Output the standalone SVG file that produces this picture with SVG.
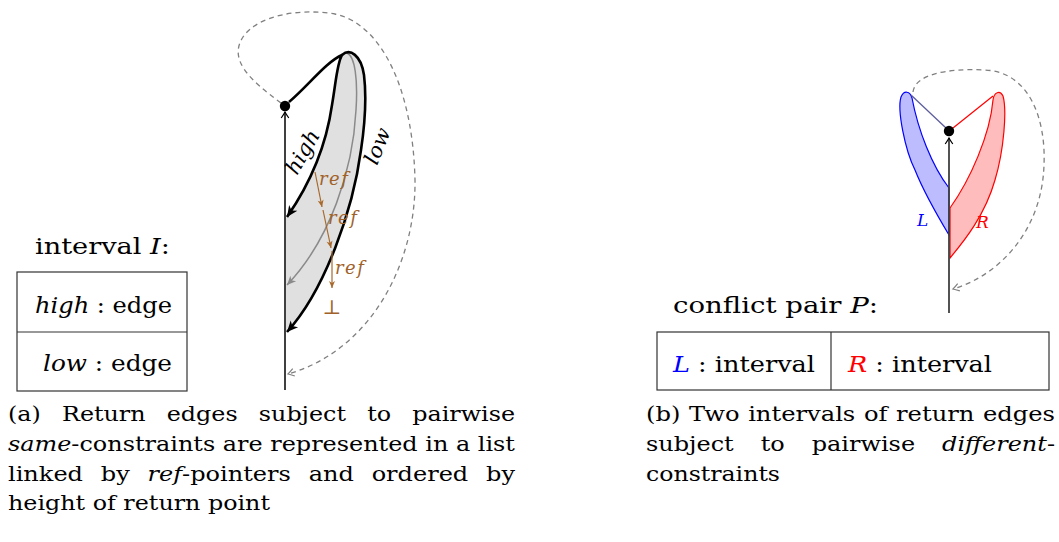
<svg xmlns="http://www.w3.org/2000/svg" width="1059" height="542" viewBox="0 0 1059 542" font-family="'DejaVu Serif', serif">
<style>
  .cap{font-size:21px}
  .lbl{font-size:23px}
  .it{font-style:italic}
  .box{fill:none;stroke:#333;stroke-width:1.2}
  .thick{fill:none;stroke:#000;stroke-width:2.6;stroke-linejoin:round}
  .axis{fill:none;stroke:#000;stroke-width:1.5}
  .axis2{fill:none;stroke:#404040;stroke-width:1.8}
  .mid{fill:none;stroke:#8a8a8a;stroke-width:1.5}
  .dash{fill:none;stroke:#808080;stroke-width:1.3;stroke-dasharray:5 4}
  .ref{fill:none;stroke:#a8692d;stroke-width:1.2}
  .reft{fill:#a0622a;font-style:italic;font-size:18px;letter-spacing:1.5px}
</style>
<defs>
  <marker id="stealthK" markerUnits="userSpaceOnUse" viewBox="-12 -6 14 12" refX="0" refY="0" markerWidth="14" markerHeight="12" orient="auto">
    <path d="M0,0 L-11,-5 L-8,0 L-11,5 Z" fill="#000"/>
  </marker>
  <marker id="stealthG" markerUnits="userSpaceOnUse" viewBox="-12 -6 14 12" refX="0" refY="0" markerWidth="14" markerHeight="12" orient="auto">
    <path d="M0,0 L-9,-4 L-6.5,0 L-9,4 Z" fill="#8a8a8a"/>
  </marker>
  <marker id="stealthB" markerUnits="userSpaceOnUse" viewBox="-10 -5 12 10" refX="0" refY="0" markerWidth="12" markerHeight="10" orient="auto">
    <path d="M0,0 L-7,-3 L-5,0 L-7,3 Z" fill="#a8692d"/>
  </marker>
  <marker id="toK" markerUnits="userSpaceOnUse" viewBox="-9 -6 11 12" refX="0" refY="0" markerWidth="11" markerHeight="12" orient="auto">
    <path d="M-6,-3.8 Q-2,-1 0,0 Q-2,1 -6,3.8" fill="none" stroke="#000" stroke-width="1.2"/>
  </marker>
  <marker id="toG" markerUnits="userSpaceOnUse" viewBox="-9 -6 11 12" refX="0" refY="0" markerWidth="11" markerHeight="12" orient="auto">
    <path d="M-6,-3.8 Q-2,-1 0,0 Q-2,1 -6,3.8" fill="none" stroke="#808080" stroke-width="1.2"/>
  </marker>
</defs>

<!-- ===== Figure (a) ===== -->
<g id="interval-table">
  <text class="lbl" x="35" y="254" textLength="135" lengthAdjust="spacingAndGlyphs">interval <tspan class="it">I</tspan>:</text>
  <rect class="box" x="17" y="272" width="170" height="119"/>
  <line class="box" x1="17" y1="332" x2="187" y2="332"/>
  <text class="lbl" x="35" y="313" textLength="137" lengthAdjust="spacingAndGlyphs"><tspan class="it">high</tspan> : edge</text>
  <text class="lbl" x="43" y="371" textLength="129" lengthAdjust="spacingAndGlyphs"><tspan class="it">low</tspan> : edge</text>
</g>

<g id="region-a">
  <path d="M286,218 C314,178 327,140 332,105 C336,82 337,63 342,55 C350,48 361,55 364,75 C367,100 364,130 361,150 C353,210 325,290 286,333 Z" fill="#e0e0e0" stroke="none"/>
</g>

<g id="connectors-a">
  <path class="dash" d="M281,103 C250,80 228,60 243,37 C258,15 300,8 335,14 C382,24 413,90 415,180 C416,262 372,350 288,374" marker-end="url(#toG)"/>
  <path class="axis" d="M285,390 V112" marker-end="url(#toK)"/>
  <path class="mid" d="M347,53 C355,56 358,80 356,110 C353,170 330,240 287,285" marker-end="url(#stealthG)"/>
  <path class="thick" d="M289,102 C308,86 326,62 342,55 C337,63 336,82 332,105 C327,140 314,178 287,217" marker-end="url(#stealthK)"/>
  <path class="thick" d="M342,55 C350,48 361,55 364,75 C367,100 364,130 361,150 C353,210 325,290 287,332" marker-end="url(#stealthK)"/>
  <path class="ref" d="M315,172 L322,207" marker-end="url(#stealthB)"/>
  <path class="ref" d="M323,210 L331,248" marker-end="url(#stealthB)"/>
  <path class="ref" d="M332,251 L332,288" marker-end="url(#stealthB)"/>
</g>

<g id="node-a">
  <circle cx="285" cy="106" r="5.2" fill="#000"/>
</g>

<g id="labels-a">
  <text class="it" font-size="21" transform="translate(297,176) rotate(-60)">high</text>
  <text class="it" font-size="21" transform="translate(377,166) rotate(-68)">low</text>
  <text class="reft" x="319" y="185">ref</text>
  <text class="reft" x="328" y="224">ref</text>
  <text class="reft" x="335" y="274">ref</text>
  <text x="332" y="314" text-anchor="middle" font-size="20" fill="#a0622a">⊥</text>
</g>

<g id="caption-a">
  <text class="cap" x="8" y="421" textLength="507" lengthAdjust="spacingAndGlyphs" word-spacing="12">(a) Return edges subject to pairwise</text>
  <text class="cap" x="8" y="451" textLength="507" lengthAdjust="spacingAndGlyphs"><tspan class="it">same</tspan>-constraints are represented in a list</text>
  <text class="cap" x="8" y="481" textLength="507" lengthAdjust="spacingAndGlyphs" word-spacing="8.9">linked by <tspan class="it">ref</tspan>-pointers and ordered by</text>
  <text class="cap" x="8" y="510" textLength="262" lengthAdjust="spacingAndGlyphs">height of return point</text>
</g>

<!-- ===== Figure (b) ===== -->
<g id="region-L">
  <path d="M949,188 C932,166 918,130 912,98 C910,91 904,90 901,97 C897,110 905,150 915,170 C925,195 940,220 949,235 Z" fill="#bcbcff" stroke="#0000ff" stroke-width="1.2"/>
</g>
<g id="region-R">
  <path d="M950,208 C970,180 990,135 993,100 C994,92 1000,90 1003,96 C1007,110 1004,150 995,180 C985,215 965,240 950,258 Z" fill="#ffbcbc" stroke="#ff0000" stroke-width="1.2"/>
</g>

<g id="connectors-b">
  <path class="dash" d="M913,92 C915,75 945,68 985,70 C1030,72 1046,120 1044,165 C1042,230 1000,275 953,289" marker-end="url(#toG)"/>
  <path d="M946,128 L911,95" fill="none" stroke="#5c5c9c" stroke-width="1.3"/>
  <path d="M953,128 L993,96" fill="none" stroke="#ff0000" stroke-width="1.2"/>
  <path class="axis2" d="M949,313 V138" marker-end="url(#toK)"/>
</g>

<g id="node-b">
  <circle cx="949" cy="131" r="5.2" fill="#000"/>
</g>

<g id="labels-b">
  <text class="it" font-size="17" x="917" y="226" fill="#0000ff">L</text>
  <text class="it" font-size="17" x="976" y="228" fill="#ff0000">R</text>
</g>

<g id="conflict-table">
  <text class="lbl" x="673" y="313" textLength="205" lengthAdjust="spacingAndGlyphs">conflict pair <tspan class="it">P</tspan>:</text>
  <rect class="box" x="657" y="332" width="392" height="58"/>
  <line class="box" x1="831" y1="332" x2="831" y2="390"/>
  <text class="lbl" x="673" y="372" textLength="142" lengthAdjust="spacingAndGlyphs"><tspan class="it" fill="#0000ff">L</tspan> : interval</text>
  <text class="lbl" x="848" y="372" textLength="144" lengthAdjust="spacingAndGlyphs"><tspan class="it" fill="#ff0000">R</tspan> : interval</text>
</g>

<g id="caption-b">
  <text class="cap" x="646" y="421" textLength="409" lengthAdjust="spacingAndGlyphs" word-spacing="0.8">(b) Two intervals of return edges</text>
  <text class="cap" x="646" y="451" textLength="409" lengthAdjust="spacingAndGlyphs" word-spacing="17">subject to pairwise <tspan class="it">different</tspan>-</text>
  <text class="cap" x="646" y="481" textLength="134" lengthAdjust="spacingAndGlyphs">constraints</text>
</g>
</svg>
